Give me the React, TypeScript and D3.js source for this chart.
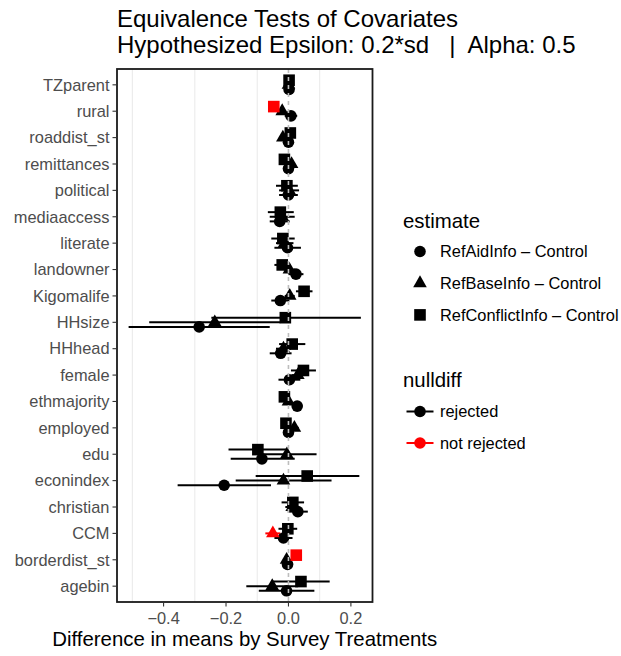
import React from "react";
import * as d3 from "d3";

// Covariates, listed top to bottom as they appear on the y axis
const covariates = [
  "TZparent", "rural", "roaddist_st", "remittances", "political", "mediaaccess",
  "literate", "landowner", "Kigomalife", "HHsize", "HHhead", "female",
  "ethmajority", "employed", "edu", "econindex", "christian", "CCM",
  "borderdist_st", "agebin",
];

const estimates = ["RefAidInfo – Control", "RefBaseInfo – Control", "RefConflictInfo – Control"];
const nulldiffLevels = ["rejected", "not rejected"];

// RefAidInfo – Control: estimate, lower, upper
const aidEst = [0.002, 0.008, 0.0, 0.0, 0.0, -0.028, -0.003, 0.024, -0.026, -0.286, -0.025, 0.003, 0.028, 0.0, -0.085, -0.206, 0.03, -0.016, -0.003, -0.006];
const aidLo = [-0.008, -0.012, -0.01, -0.01, -0.03, -0.06, -0.045, 0.0, -0.055, -0.512, -0.06, -0.032, 0.015, -0.01, -0.185, -0.355, -0.002, -0.045, -0.01, -0.095];
const aidHi = [0.012, 0.028, 0.01, 0.01, 0.03, 0.004, 0.04, 0.048, 0.003, -0.06, 0.01, 0.038, 0.041, 0.01, 0.02, -0.056, 0.062, 0.013, 0.004, 0.083];
const aidNull = [0, 0, 0, 0, 0, 0, 0, 0, 0, 0, 0, 0, 0, 0, 0, 0, 0, 0, 0, 0];

// RefBaseInfo – Control
const baseEst = [0.0, -0.02, -0.018, 0.01, 0.002, -0.02, -0.012, 0.003, 0.004, -0.236, -0.016, 0.03, 0.0, 0.019, -0.005, -0.016, 0.012, -0.05, -0.006, -0.052];
const baseLo = [-0.008, -0.03, -0.028, 0.0, -0.03, -0.06, -0.04, -0.015, -0.012, -0.446, -0.04, 0.01, -0.01, 0.005, -0.1, -0.169, -0.01, -0.074, -0.012, -0.135];
const baseHi = [0.008, -0.01, -0.008, 0.02, 0.034, 0.02, 0.016, 0.021, 0.02, -0.026, 0.008, 0.05, 0.01, 0.033, 0.09, 0.138, 0.034, -0.026, 0.0, 0.031];
const baseNull = [0, 0, 0, 0, 0, 0, 0, 0, 0, 0, 0, 0, 0, 0, 0, 0, 0, 1, 0, 0];

// RefConflictInfo – Control
const conflictEst = [0.002, -0.047, 0.006, -0.013, -0.005, -0.026, -0.018, -0.02, 0.05, -0.01, 0.012, 0.048, -0.013, -0.008, -0.098, 0.06, 0.014, -0.002, 0.025, 0.04];
const conflictLo = [-0.006, -0.058, -0.004, -0.022, -0.04, -0.066, -0.055, -0.045, 0.024, -0.247, -0.03, 0.008, -0.03, -0.02, -0.192, -0.105, -0.022, -0.032, 0.02, -0.05];
const conflictHi = [0.01, -0.036, 0.016, -0.004, 0.03, 0.017, 0.02, 0.006, 0.077, 0.232, 0.054, 0.088, 0.004, 0.004, -0.004, 0.227, 0.05, 0.028, 0.03, 0.132];
const conflictNull = [0, 1, 0, 0, 0, 0, 0, 0, 0, 0, 0, 0, 0, 0, 0, 0, 0, 0, 1, 0];

const xTicks = [-0.4, -0.2, 0.0, 0.2];
const xGrid = [-0.5, -0.3, -0.1, 0.1];

const W = 621;
const H = 656;
const FONT = "'Liberation Sans', Arial, Helvetica, sans-serif";
const nullColors = ["#000000", "#ff0000"];

type Row = { cov: string; est: number; lo: number; hi: number; nd: number; group: number };

const series = [
  [aidEst, aidLo, aidHi, aidNull],
  [baseEst, baseLo, baseHi, baseNull],
  [conflictEst, conflictLo, conflictHi, conflictNull],
];

const rows: Row[] = series.flatMap(([e, lo, hi, nd], g) =>
  covariates.map((cov, i) => ({ cov, est: e[i], lo: lo[i], hi: hi[i], nd: nd[i], group: g }))
);

function Shape({ group, cx, cy, fill }: { group: number; cx: number; cy: number; fill: string }) {
  if (group === 0) return <circle cx={cx} cy={cy} r={5.8} fill={fill} />;
  if (group === 1) {
    const s = 13.6;
    const r = s / Math.sqrt(3);
    const pts = [
      [cx, cy - r],
      [cx + s / 2, cy + r / 2],
      [cx - s / 2, cy + r / 2],
    ];
    return <polygon points={pts.map((p) => p.join(",")).join(" ")} fill={fill} />;
  }
  const a = 11.6;
  return <rect x={cx - a / 2} y={cy - a / 2} width={a} height={a} fill={fill} />;
}

export default function App() {
  const panel = { left: 117, right: 372.5, top: 69, bottom: 602 };

  const lo = d3.min(rows, (d) => d.lo) as number;
  const hi = d3.max(rows, (d) => d.hi) as number;
  const pad = (hi - lo) * 0.05;
  const x = d3.scaleLinear().domain([lo - pad, hi + pad]).range([panel.left, panel.right]);
  const y = d3.scalePoint<string>().domain(covariates).range([panel.top, panel.bottom]).padding(0.6);
  const step = y.step();
  // dodge: first estimate sits lowest, last highest
  const dodge = (g: number) => (1 - g) * step * 0.175;

  const fmt = (v: number) => (v < 0 ? "\u2212" : "") + d3.format(".1f")(Math.abs(v));

  const lgX = 420;
  const lgText = 440;

  return (
    <svg
      width={W}
      height={H}
      style={{ position: "absolute", left: 0, top: 0, background: "#fff" }}
      fontFamily={FONT}
    >
      {/* title */}
      <text x={panel.left} y={27} fontSize={24} fill="#000">Equivalence Tests of Covariates</text>
      <text x={panel.left} y={52.5} fontSize={24} fill="#000" style={{ whiteSpace: "pre" }}>
        {"Hypothesized Epsilon: 0.2*sd   |  Alpha: 0.5"}
      </text>

      {/* grid */}
      {xGrid.map((g) => (
        <line key={g} x1={x(g)} x2={x(g)} y1={panel.top} y2={panel.bottom} stroke="#ebebeb" strokeWidth={1.1} />
      ))}

      {/* error bars */}
      {rows.map((d, i) => (
        <line
          key={"e" + i}
          x1={x(d.lo)}
          x2={x(d.hi)}
          y1={(y(d.cov) as number) + dodge(d.group)}
          y2={(y(d.cov) as number) + dodge(d.group)}
          stroke={nullColors[d.nd]}
          strokeWidth={2}
        />
      ))}

      {/* points */}
      {rows.map((d, i) => (
        <Shape
          key={"p" + i}
          group={d.group}
          cx={x(d.est)}
          cy={(y(d.cov) as number) + dodge(d.group)}
          fill={nullColors[d.nd]}
        />
      ))}

      {/* reference line at zero */}
      <line x1={x(0)} x2={x(0)} y1={panel.top} y2={panel.bottom} stroke="#bdbdbd" strokeWidth={1.6} strokeDasharray="4,4" />

      {/* panel frame */}
      <rect
        x={panel.left}
        y={panel.top}
        width={panel.right - panel.left}
        height={panel.bottom - panel.top}
        fill="none"
        stroke="#1a1a1a"
        strokeWidth={1.8}
      />

      {/* y axis */}
      {covariates.map((c) => (
        <g key={c}>
          <line x1={panel.left - 4.5} x2={panel.left} y1={y(c)} y2={y(c)} stroke="#333" strokeWidth={1.1} />
          <text x={panel.left - 7.5} y={(y(c) as number) + 5.8} textAnchor="end" fontSize={16.4} fill="#4d4d4d">
            {c}
          </text>
        </g>
      ))}

      {/* x axis */}
      {xTicks.map((t) => (
        <g key={t}>
          <line x1={x(t)} x2={x(t)} y1={panel.bottom} y2={panel.bottom + 4.5} stroke="#333" strokeWidth={1.1} />
          <text x={x(t)} y={623.5} textAnchor="middle" fontSize={16.4} fill="#4d4d4d">
            {fmt(t)}
          </text>
        </g>
      ))}
      <text x={(panel.left + panel.right) / 2} y={646} textAnchor="middle" fontSize={20.4} fill="#000">
        Difference in means by Survey Treatments
      </text>

      {/* legend: estimate */}
      <text x={403} y={228} fontSize={20.4} fill="#000">estimate</text>
      {estimates.map((e, g) => {
        const cy = 251.5 + g * 31.7;
        return (
          <g key={e}>
            <Shape group={g} cx={lgX} cy={cy} fill="#000" />
            <text x={lgText} y={cy + 5.8} fontSize={16.4} fill="#000">{e}</text>
          </g>
        );
      })}

      {/* legend: nulldiff */}
      <text x={403} y={387} fontSize={20.4} fill="#000">nulldiff</text>
      {nulldiffLevels.map((n, k) => {
        const cy = 411.5 + k * 31.5;
        return (
          <g key={n}>
            <line x1={406.5} x2={433.5} y1={cy} y2={cy} stroke={nullColors[k]} strokeWidth={2} />
            <circle cx={lgX} cy={cy} r={5.8} fill={nullColors[k]} />
            <text x={lgText} y={cy + 5.8} fontSize={16.4} fill="#000">{n}</text>
          </g>
        );
      })}
    </svg>
  );
}
